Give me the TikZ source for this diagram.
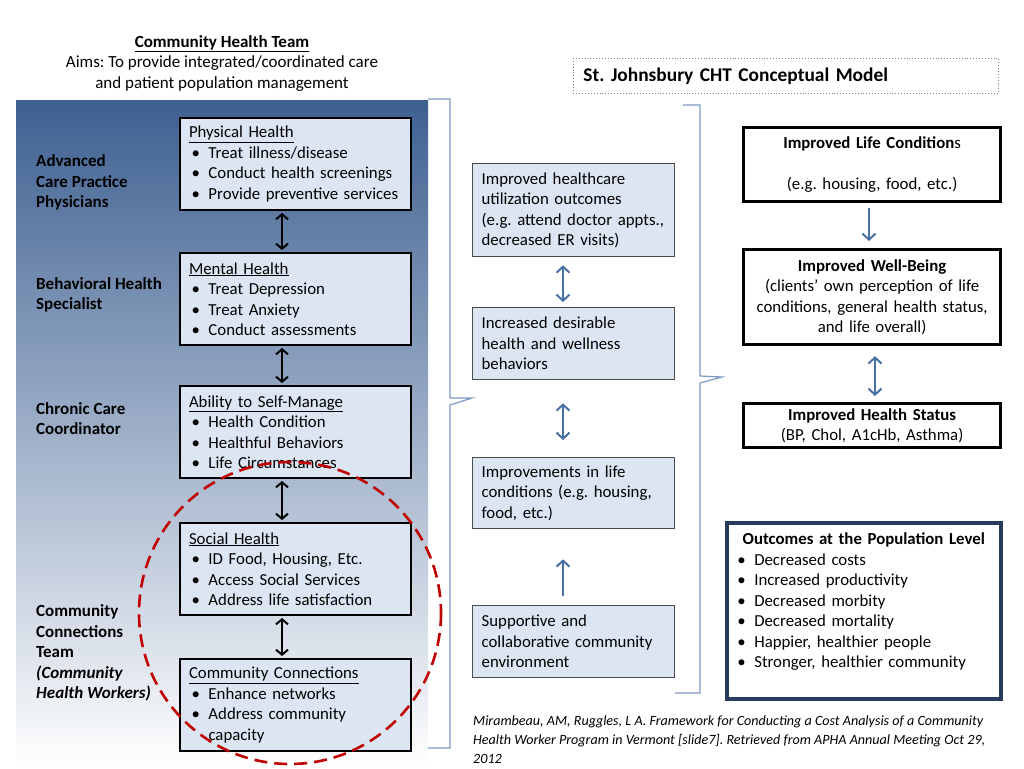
\documentclass[tikz,border=0pt]{standalone}
\usepackage{fontspec}
\setmainfont{Carlito}
\usetikzlibrary{arrows.meta}
\definecolor{panelblue}{RGB}{62,96,145}
\definecolor{panelmid}{RGB}{172,182,200}
\definecolor{boxfill}{RGB}{220,230,242}
\definecolor{chtblue}{RGB}{72,112,165}
\definecolor{bracketblue}{RGB}{125,152,195}
\definecolor{circred}{RGB}{192,0,0}
\definecolor{popframe}{RGB}{38,60,92}
\newcommand{\bl}[1]{\mbox{\makebox[19.5pt][l]{\hspace{2.5pt}\textbullet}#1}}
\frenchspacing
\tikzset{
  leftbox/.style={draw=black, line width=2pt, fill=boxfill, anchor=north west,
    minimum width=231pt, minimum height=92pt, text width=213pt, inner xsep=9pt, align=left},
  midbox/.style={draw=black!70, line width=1.3pt, fill=boxfill, anchor=north west,
    minimum width=202pt, text width=184pt, inner xsep=9pt, align=left},
  outbox/.style={draw=black, line width=3.2pt, fill=white, anchor=north west,
    minimum width=257pt, text width=245pt, inner xsep=6pt, align=center},
  role/.style={anchor=west, align=left, inner sep=0pt, font=\bfseries\fontsize{17}{20.5}\selectfont},
  blkarrow/.style={{Straight Barb[length=5pt,width=12pt]}-{Straight Barb[length=5pt,width=12pt]}, line width=2pt},
  bluarrow/.style={draw=chtblue, line width=2pt, {Straight Barb[length=6pt,width=13pt]}-{Straight Barb[length=6pt,width=13pt]}},
  bluup/.style={draw=chtblue, line width=2pt, -{Straight Barb[length=6pt,width=13pt]}},
  bracket/.style={draw=bracketblue, line width=1.2pt}
}
\begin{document}
\begin{tikzpicture}[x=1pt, y=-1pt, font=\fontsize{16.8}{20.5}\selectfont]
  \useasboundingbox (0,0) rectangle (1024,768);
  \shade[top color=panelblue, middle color=panelmid, bottom color=white] (16,100) rectangle (428,768);

  \node[align=center, font=\fontsize{17}{20.5}\selectfont] (aims) at (222,63)
    {\textbf{\underline{Community Health Team}}\\ Aims: To provide integrated/coordinated care\\ and patient population management};
  \node[draw=gray, dotted, line width=0.9pt, anchor=north west, minimum width=425pt, minimum height=35pt,
    text width=405pt, inner xsep=10pt, align=left, font=\bfseries\fontsize{19.4}{22}\selectfont]
    (model) at (573,58) {St. Johnsbury CHT Conceptual Model};

  % team members
  \node[role] (acp) at (36,182.5) {Advanced\\ Care Practice\\ Physicians};
  \node[role] (bhs) at (36,295) {Behavioral Health\\ Specialist};
  \node[role] (ccc) at (36,418.5) {Chronic Care\\ Coordinator};
  \node[role] (cct) at (36,653) {Community\\ Connections\\ Team\\ \textit{(Community}\\ \textit{Health Workers)}};

  \node[leftbox] (phys) at (179,117) {\underline{Physical Health}\\ \bl{Treat illness/disease}\\ \bl{Conduct health screenings}\\ \bl{Provide preventive services}};
  \node[leftbox] (ment) at (179,252) {\underline{Mental Health}\\ \bl{Treat Depression}\\ \bl{Treat Anxiety}\\ \bl{Conduct assessments}};
  \node[leftbox] (self) at (179,385) {\underline{Ability to Self-Manage}\\ \bl{Health Condition}\\ \bl{Healthful Behaviors}\\ \bl{Life Circumstances}};
  \node[leftbox] (soc) at (179,522) {\underline{Social Health}\\ \bl{ID Food, Housing, Etc.}\\ \bl{Access Social Services}\\ \bl{Address life satisfaction}};
  \node[leftbox] (conn) at (179,658) {\underline{Community Connections}\\ \bl{Enhance networks}\\ \bl{Address community}\\ \hspace*{19.5pt}capacity};

  \coordinate (lx) at (282,0);
  \draw[blkarrow, shorten <=2pt, shorten >=2pt] (phys.south -| lx) -- (ment.north -| lx);
  \draw[blkarrow, shorten <=2pt, shorten >=2pt] (ment.south -| lx) -- (self.north -| lx);
  \draw[blkarrow, shorten <=2pt, shorten >=2pt] (self.south -| lx) -- (soc.north -| lx);
  \draw[blkarrow, shorten <=2pt, shorten >=2pt] (soc.south -| lx) -- (conn.north -| lx);

  \draw[circred, line width=2.6pt, dash pattern=on 13pt off 7pt] (290,613) circle[radius=151];

  % outcomes of the team
  \draw[bracket] (428,99) -- (450,99) -- (450,398) -- (472,398) -- (450,405) -- (450,748) -- (428,748);

  \node[midbox, minimum height=93pt] (util) at (472,163) {Improved healthcare\\ utilization outcomes\\ (e.g. attend doctor appts.,\\ decreased ER visits)};
  \node[midbox, minimum height=72pt] (behav) at (472,307) {Increased desirable\\ health and wellness\\ behaviors};
  \node[midbox, minimum height=71pt] (lifec) at (472,457) {Improvements in life\\ conditions (e.g. housing,\\ food, etc.)};
  \node[midbox, minimum height=72pt] (envir) at (472,605) {Supportive and\\ collaborative community\\ environment};

  \coordinate (mx) at (563,0);
  \draw[bluarrow, shorten <=8pt, shorten >=5pt] (util.south -| mx) -- (behav.north -| mx);
  \draw[bluarrow, shorten <=23pt, shorten >=17pt] (behav.south -| mx) -- (lifec.north -| mx);
  \draw[bluup, shorten <=9pt, shorten >=30pt] (envir.north -| mx) -- (lifec.south -| mx);

  \draw[bracket] (683,105) -- (700,105) -- (700,376) -- (722,377) -- (700,383) -- (700,693) -- (675,693);

  \node[outbox, minimum height=74pt] (lifeA) at (742,126) {\textbf{Improved Life Condition}s\\[\baselineskip] (e.g. housing, food, etc.)};
  \node[outbox, minimum height=95pt] (well) at (742,248) {\textbf{Improved Well-Being}\\ (clients’ own perception of life\\ conditions, general health status,\\ and life overall)};
  \node[outbox, minimum height=44pt] (hstat) at (742,402) {\textbf{Improved Health Status}\\ (BP, Chol, A1cHb, Asthma)};

  \coordinate (rx) at (869,0);
  \coordinate (ry) at (875,0);
  \draw[bluup, shorten <=5pt, shorten >=7pt] (lifeA.south -| rx) -- (well.north -| rx);
  \draw[bluarrow, shorten <=10pt, shorten >=6pt] (well.south -| ry) -- (hstat.north -| ry);

  \node[draw=popframe, line width=3.6pt, fill=white, anchor=north west, minimum width=274pt, minimum height=176pt,
    text width=258pt, inner xsep=8pt, align=left] (popl) at (725,521)
    {\makebox[258pt]{\textbf{Outcomes at the Population Level}}\\ \bl{Decreased costs}\\ \bl{Increased productivity}\\ \bl{Decreased morbity}\\ \bl{Decreased mortality}\\ \bl{Happier, healthier people}\\ \bl{Stronger, healthier community}\\ \mbox{}};

  \node[anchor=north west, align=left, inner sep=0pt, font=\itshape\fontsize{14.1}{19}\selectfont] (cite) at (473,715)
    {Mirambeau, AM, Ruggles, L A. Framework for Conducting a Cost Analysis of a Community\\ Health Worker Program in Vermont [slide7]. Retrieved from APHA Annual Meeting Oct 29,\\ 2012};
\end{tikzpicture}
\end{document}
